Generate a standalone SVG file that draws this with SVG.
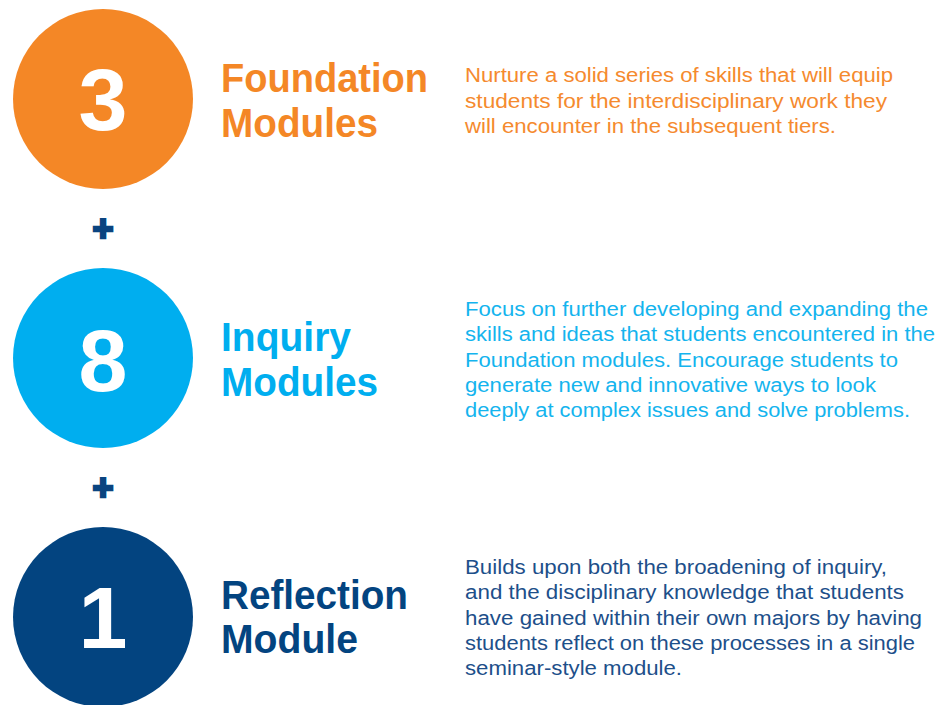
<svg xmlns="http://www.w3.org/2000/svg" width="942" height="705" viewBox="0 0 942 705">
<style>
.num{font-family:"Liberation Sans",Arial,sans-serif;font-weight:bold;font-size:88px;fill:#ffffff;text-anchor:middle}
.title{font-family:"Liberation Sans",Arial,sans-serif;font-weight:bold;font-size:40px}
.desc{font-family:"Liberation Sans",Arial,sans-serif;font-size:20px}
.plus{font-family:"Liberation Sans",Arial,sans-serif;font-weight:bold;font-size:36px;fill:#0a4480;stroke:#0a4480;stroke-width:2.5;text-anchor:middle}
.or{fill:#f48726}
.cy{fill:#00aeef}
.nv{fill:#034480}
.ort{fill:#f58a2e}
.cyt{fill:#14b4ee}
.nvt{fill:#1d4f8a}
</style>
<rect width="942" height="705" fill="#ffffff"/>
<g id="connectors">
<text class="plus" x="103" y="241">+</text>
<text class="plus" x="103" y="500">+</text>
</g>
<g id="foundation">
<circle class="or" cx="103" cy="99" r="90"/>
<text class="num" x="103" y="130">3</text>
<text class="title or" x="221" y="92" textLength="207" lengthAdjust="spacingAndGlyphs">Foundation</text>
<text class="title or" x="221" y="137" textLength="157" lengthAdjust="spacingAndGlyphs">Modules</text>
<g class="desc ort">
<text x="465" y="82" textLength="428" lengthAdjust="spacingAndGlyphs">Nurture a solid series of skills that will equip</text>
<text x="465" y="107.5" textLength="422" lengthAdjust="spacingAndGlyphs">students for the interdisciplinary work they</text>
<text x="465" y="133" textLength="371" lengthAdjust="spacingAndGlyphs">will encounter in the subsequent tiers.</text>
</g>
</g>
<g id="inquiry">
<circle class="cy" cx="103" cy="358" r="90"/>
<text class="num" x="103" y="391">8</text>
<text class="title cy" x="221" y="351" textLength="130" lengthAdjust="spacingAndGlyphs">Inquiry</text>
<text class="title cy" x="221" y="396" textLength="157" lengthAdjust="spacingAndGlyphs">Modules</text>
<g class="desc cyt">
<text x="465" y="316" textLength="463" lengthAdjust="spacingAndGlyphs">Focus on further developing and expanding the</text>
<text x="465" y="341" textLength="470" lengthAdjust="spacingAndGlyphs">skills and ideas that students encountered in the</text>
<text x="465" y="367" textLength="433" lengthAdjust="spacingAndGlyphs">Foundation modules. Encourage students to</text>
<text x="465" y="392" textLength="411" lengthAdjust="spacingAndGlyphs">generate new and innovative ways to look</text>
<text x="465" y="417" textLength="445" lengthAdjust="spacingAndGlyphs">deeply at complex issues and solve problems.</text>
</g>
</g>
<g id="reflection">
<circle class="nv" cx="103" cy="617" r="90"/>
<text class="num" x="103" y="648">1</text>
<text class="title nv" x="221" y="609" textLength="187" lengthAdjust="spacingAndGlyphs">Reflection</text>
<text class="title nv" x="221" y="653" textLength="137" lengthAdjust="spacingAndGlyphs">Module</text>
<g class="desc nvt">
<text x="465" y="574" textLength="422" lengthAdjust="spacingAndGlyphs">Builds upon both the broadening of inquiry,</text>
<text x="465" y="599" textLength="439" lengthAdjust="spacingAndGlyphs">and the disciplinary knowledge that students</text>
<text x="465" y="625" textLength="457" lengthAdjust="spacingAndGlyphs">have gained within their own majors by having</text>
<text x="465" y="650" textLength="450" lengthAdjust="spacingAndGlyphs">students reflect on these processes in a single</text>
<text x="465" y="675" textLength="217" lengthAdjust="spacingAndGlyphs">seminar-style module.</text>
</g>
</g>
</svg>
